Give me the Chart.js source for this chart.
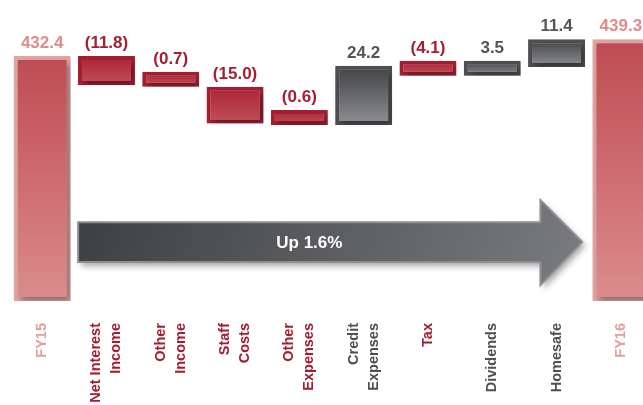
<!DOCTYPE html>
<html>
<head>
<meta charset="utf-8">
<script src="https://cdn.jsdelivr.net/npm/chart.js@4/dist/chart.umd.min.js"></script>
<style>
  html, body { margin: 0; padding: 0; background: #fff; overflow: hidden; }
  canvas { display: block; }
</style>
</head>
<body>
<canvas id="waterfall" width="680" height="405"></canvas>
<script>
// values
const categories = [
  ["FY15"], ["Net Interest", "Income"], ["Other", "Income"], ["Staff", "Costs"],
  ["Other", "Expenses"], ["Credit", "Expenses"], ["Tax"], ["Dividends"], ["Homesafe"], ["FY16"]
];
const openingValue = 432.4;
const movements = [-11.8, -0.7, -15.0, -0.6, 24.2, -4.1, 3.5, 11.4];
const closingValue = 439.3;
const valueLabels = ["432.4", "(11.8)", "(0.7)", "(15.0)", "(0.6)", "24.2", "(4.1)", "3.5", "11.4", "439.3"];
const arrowText = "Up 1.6%";

const Y_MIN = 332.4;
const Y_MAX = 455.3;
const FONT = '"Liberation Sans", Arial, sans-serif';

// floating bars: totals start at the axis floor, movements start at the running total
const kinds = [];
const barData = [];
barData.push([Y_MIN, openingValue]);
kinds.push("total");
let running = openingValue;
movements.forEach((m) => {
  barData.push([running, running + m]);
  kinds.push(m < 0 ? "neg" : "pos");
  running += m;
});
barData.push([Y_MIN, closingValue]);
kinds.push("total");

const palette = {
  total: { top: "#bf4b54", bottom: "#db8c8c", border: "#e3a3a3", label: "#df8c8c", axis: "#e49d9d" },
  neg:   { top: "#a92435", bottom: "#c44e5a", border: "#a51d31", label: "#a51e32", axis: "#a31c30" },
  pos:   { top: "#404144", bottom: "#8f9093", border: "#4f4f52", label: "#555557", axis: "#4f4f51" }
};

// arrow placement in category / value units
const arrow = { from: 0.56, headStart: 7.75, tip: 8.4, bodyTop: 364.6, bodyBottom: 348.3, headTop: 373.6, headBottom: 338.9 };

function barGradient(c) {
  const kind = kinds[c.dataIndex] || "neg";
  const chart = c.chart;
  const y = chart.scales && chart.scales.y;
  if (!chart.chartArea || !y || c.dataIndex === undefined) return palette[kind].top;
  const [a, b] = barData[c.dataIndex];
  const bottom = y.getPixelForValue(Math.min(a, b));
  const top = Math.min(y.getPixelForValue(Math.max(a, b)), bottom - 15);
  const g = chart.ctx.createLinearGradient(0, top, 0, bottom);
  g.addColorStop(0, palette[kind].top);
  g.addColorStop(1, palette[kind].bottom);
  return g;
}

const shadowPlugin = {
  id: "barShadow",
  beforeDatasetsDraw(chart) {
    const ctx = chart.ctx;
    ctx.save();
    ctx.shadowColor = "rgba(0,0,0,0.35)";
    ctx.shadowBlur = 6;
    ctx.shadowOffsetX = 3;
    ctx.shadowOffsetY = 4;
  },
  afterDatasetsDraw(chart) {
    chart.ctx.restore();
  }
};

const arrowPlugin = {
  id: "growthArrow",
  afterDatasetsDraw(chart) {
    const { ctx, scales: { x, y } } = chart;
    const x0 = x.getPixelForValue(arrow.from);
    const xh = x.getPixelForValue(arrow.headStart);
    const xt = x.getPixelForValue(arrow.tip);
    const bt = y.getPixelForValue(arrow.bodyTop);
    const bb = y.getPixelForValue(arrow.bodyBottom);
    const ht = y.getPixelForValue(arrow.headTop);
    const hb = y.getPixelForValue(arrow.headBottom);
    const mid = (bt + bb) / 2;
    ctx.save();
    ctx.beginPath();
    ctx.moveTo(x0, bt);
    ctx.lineTo(xh, bt);
    ctx.lineTo(xh, ht);
    ctx.lineTo(xt, mid);
    ctx.lineTo(xh, hb);
    ctx.lineTo(xh, bb);
    ctx.lineTo(x0, bb);
    ctx.closePath();
    const g = ctx.createLinearGradient(x0, bt - 60, xt, hb + 40);
    g.addColorStop(0, "#3c3d40");
    g.addColorStop(1, "#7c7d80");
    ctx.shadowColor = "rgba(0,0,0,0.35)";
    ctx.shadowBlur = 6;
    ctx.shadowOffsetX = 3;
    ctx.shadowOffsetY = 4;
    ctx.fillStyle = g;
    ctx.fill();
    ctx.shadowColor = "transparent";
    ctx.lineWidth = 2;
    ctx.strokeStyle = "#8d8e90";
    ctx.stroke();
    ctx.fillStyle = "#ffffff";
    ctx.font = "bold 17px " + FONT;
    ctx.textAlign = "center";
    ctx.textBaseline = "middle";
    ctx.fillText(arrowText, (x0 + xh) / 2, mid + 1);
    ctx.restore();
  }
};

const labelPlugin = {
  id: "waterfallLabels",
  afterDraw(chart) {
    const { ctx, chartArea, scales: { x } } = chart;
    const meta = chart.getDatasetMeta(0);
    ctx.save();
    // values above the bars
    ctx.font = "bold 17px " + FONT;
    ctx.textAlign = "center";
    ctx.textBaseline = "alphabetic";
    meta.data.forEach((bar, i) => {
      const top = Math.min(bar.y, bar.base);
      ctx.fillStyle = palette[kinds[i]].label;
      ctx.fillText(valueLabels[i], bar.x, top - 8);
    });
    // rotated category names under the bars
    ctx.font = "bold 14.5px " + FONT;
    ctx.textAlign = "right";
    ctx.textBaseline = "middle";
    categories.forEach((lines, i) => {
      const cx = x.getPixelForValue(i);
      ctx.fillStyle = palette[kinds[i]].axis;
      lines.forEach((line, j) => {
        ctx.save();
        ctx.translate(cx + (j - (lines.length - 1) / 2) * 20, chartArea.bottom + 22);
        ctx.rotate(-Math.PI / 2);
        ctx.fillText(line, 0, 0);
        ctx.restore();
      });
    });
    ctx.restore();
  }
};

new Chart(document.getElementById("waterfall"), {
  type: "bar",
  data: {
    labels: categories.map((l) => l.join(" ")),
    datasets: [{
      data: barData,
      backgroundColor: barGradient,
      borderColor: (c) => palette[kinds[c.dataIndex] || "neg"].border,
      borderWidth: 4,
      borderSkipped: false,
      minBarLength: 15,
      barPercentage: 0.886,
      categoryPercentage: 1
    }]
  },
  options: {
    responsive: false,
    animation: false,
    layout: { padding: { left: 10, right: 27, top: 0, bottom: 104 } },
    plugins: { legend: { display: false }, tooltip: { enabled: false } },
    scales: {
      x: { display: false },
      y: { display: false, min: Y_MIN, max: Y_MAX }
    }
  },
  plugins: [shadowPlugin, arrowPlugin, labelPlugin]
});
</script>
</body>
</html>
